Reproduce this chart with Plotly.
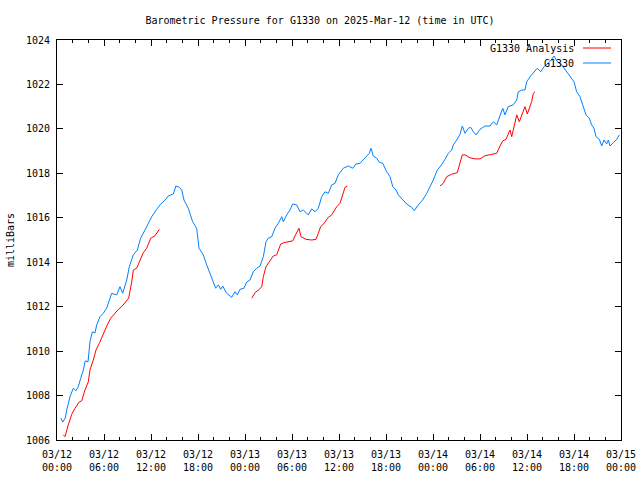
import plotly.graph_objects as go
from datetime import datetime, timedelta

# ---- data (hours since 2025-03-12 00:00 UTC, pressure in mbar) ----
obs_hours = [0.51, 0.73, 1.06, 1.24, 1.66, 2.08, 2.43, 2.72, 3.03, 3.36, 3.61, 3.96, 4.21, 4.51,
             4.85, 5.07, 5.49, 5.91, 6.34, 6.98, 7.62, 8.04, 8.39, 8.90, 9.23, 9.74, 10.25, 10.68,
             11.23, 11.66, 12.09, 12.73, 13.15, 13.79, 14.21, 14.85, 15.19, 15.61, 15.92, 16.21,
             16.76, 17.32, 17.83, 18.13, 18.68, 19.11, 19.53, 19.95, 20.26, 20.59, 20.90, 21.15,
             21.66, 22.30, 22.72, 23.02, 23.36, 23.87, 24.22, 24.64, 25.06, 25.49, 25.92, 26.34,
             26.68, 26.97, 27.41, 27.83, 28.25, 28.69, 28.89, 29.32, 29.74, 30.09, 30.60, 31.02,
             31.44, 32.08, 32.51, 32.94, 33.36, 33.79, 34.21, 34.63, 35.07, 35.49, 35.91, 36.55,
             37.19, 37.75, 38.17, 38.68, 39.10, 39.54, 39.87, 40.09, 40.38, 40.81, 41.14, 41.58,
             42.09, 42.51, 42.86, 43.28, 43.57, 44.00, 44.64, 45.28, 45.61, 46.12, 46.68, 47.20,
             47.62, 48.04, 48.55, 48.98, 49.53, 49.95, 50.39, 50.59, 51.03, 51.45, 51.74, 52.09,
             52.51, 52.81, 53.15, 53.49, 54.00, 54.64, 55.28, 55.70, 56.13, 56.55, 56.90, 57.19,
             57.61, 58.25, 58.69, 58.89, 59.32, 59.74, 59.96, 60.47, 60.80, 61.32, 61.75, 62.17,
             62.59, 63.02, 63.45, 63.87, 64.43, 65.07, 65.71, 66.00, 66.34, 66.77, 67.11, 67.53,
             67.95, 68.26, 68.55, 68.81, 69.23, 69.54, 69.83, 70.17, 70.38, 70.60, 71.02, 71.45,
             71.79]
obs_mbar = [1006.98, 1006.81, 1006.99, 1007.35, 1007.95, 1008.33, 1008.22, 1008.40, 1008.78,
            1009.15, 1009.56, 1009.52, 1010.42, 1010.87, 1010.82, 1011.18, 1011.55, 1011.70,
            1011.93, 1012.60, 1012.53, 1012.90, 1012.60, 1013.20, 1013.80, 1014.33, 1014.55,
            1015.08, 1015.45, 1015.75, 1016.05, 1016.38, 1016.58, 1016.80, 1016.98, 1017.07,
            1017.43, 1017.37, 1017.25, 1016.80, 1016.43, 1015.82, 1015.53, 1014.63, 1014.33,
            1013.88, 1013.50, 1013.05, 1012.83, 1012.98, 1012.78, 1012.93, 1012.60, 1012.42,
            1012.67, 1012.53, 1012.78, 1012.83, 1013.11, 1013.20, 1013.57, 1013.73, 1013.83,
            1014.25, 1014.92, 1015.08, 1015.15, 1015.53, 1015.75, 1016.05, 1015.82, 1016.13,
            1016.35, 1016.62, 1016.58, 1016.27, 1016.35, 1016.13, 1016.40, 1016.27, 1016.43,
            1016.95, 1017.17, 1017.10, 1017.48, 1017.55, 1017.93, 1018.23, 1018.33, 1018.23,
            1018.42, 1018.45, 1018.63, 1018.78, 1018.90, 1019.13, 1018.78, 1018.68, 1018.50,
            1018.45, 1018.07, 1017.85, 1017.40, 1017.25, 1017.03, 1016.88, 1016.62, 1016.47,
            1016.32, 1016.58, 1016.80, 1017.10, 1017.37, 1017.70, 1018.15, 1018.33, 1018.63,
            1018.90, 1019.05, 1019.28, 1019.50, 1019.76, 1020.13, 1019.80, 1020.03, 1020.07,
            1019.87, 1019.73, 1019.98, 1020.13, 1020.13, 1020.32, 1020.18, 1020.55, 1020.93,
            1020.63, 1021.00, 1021.08, 1021.30, 1021.67, 1021.75, 1021.75, 1022.12, 1022.38,
            1022.50, 1022.73, 1022.57, 1022.80, 1022.92, 1023.07, 1023.28, 1023.02, 1022.88,
            1022.57, 1022.28, 1022.12, 1021.67, 1021.45, 1021.08, 1020.63, 1020.48, 1020.18,
            1020.03, 1019.65, 1019.53, 1019.23, 1019.50, 1019.32, 1019.50, 1019.23, 1019.38,
            1019.53, 1019.73]

ana1_hours = [0.80, 1.02, 1.44, 1.88, 2.30, 2.85, 3.15, 3.57, 4.00, 4.21, 4.63, 4.98, 5.40, 5.91,
              6.42, 6.86, 7.40, 7.83, 8.26, 8.81, 9.15, 9.54, 9.74, 10.17, 10.51, 11.02, 11.45,
              11.96, 12.51, 13.06]
ana1_mbar = [1006.23, 1006.15, 1006.68, 1007.16, 1007.43, 1007.72, 1007.76, 1008.25, 1008.62,
             1009.15, 1009.60, 1010.05, 1010.35, 1010.80, 1011.18, 1011.48, 1011.70, 1011.88,
             1012.00, 1012.27, 1012.38, 1013.12, 1013.65, 1013.73, 1014.02, 1014.43, 1014.63,
             1015.08, 1015.19, 1015.48]
ana2_hours = [24.86, 25.28, 25.83, 26.14, 26.34, 26.68, 27.10, 27.61, 28.04, 28.56, 28.98, 29.53,
              30.09, 30.38, 30.89, 31.15, 31.79, 32.51, 33.06, 33.36, 33.66, 34.00, 34.63, 35.07,
              35.71, 36.13, 36.47, 36.77, 37.06]
ana2_mbar = [1012.38, 1012.63, 1012.78, 1012.90, 1013.35, 1013.80, 1014.02, 1014.28, 1014.33,
             1014.82, 1014.88, 1014.91, 1014.96, 1015.18, 1015.53, 1015.15, 1015.03, 1015.00,
             1015.03, 1015.30, 1015.60, 1015.71, 1016.02, 1016.13, 1016.50, 1016.65, 1017.03,
             1017.37, 1017.43]
ana3_hours = [48.89, 49.31, 49.75, 50.39, 51.10, 51.45, 51.74, 52.09, 52.72, 53.36, 54.00, 54.64,
              55.49, 56.13, 56.55, 56.90, 57.32, 57.61, 57.83, 58.05, 58.34, 58.69, 59.02, 59.45,
              59.74, 60.04, 60.38, 60.60, 60.81, 61.02]
ana3_mbar = [1017.43, 1017.55, 1017.85, 1017.96, 1018.03, 1018.45, 1018.83, 1018.83, 1018.70,
             1018.65, 1018.65, 1018.79, 1018.86, 1018.90, 1019.23, 1019.46, 1019.53, 1019.80,
             1019.95, 1019.65, 1020.10, 1020.63, 1020.32, 1020.73, 1021.00, 1020.67, 1021.00,
             1021.23, 1021.60, 1021.67]

title_text = "Barometric Pressure for G1330 on 2025-Mar-12 (time in UTC)"
ana_name = "G1330 Analysis"
obs_name = "G1330"
y_label = "milliBars"

base = datetime(2025, 3, 12)
def to_time(hours):
    return [base + timedelta(hours=h) if h is not None else None for h in hours]

ana_hours = ana1_hours + [None] + ana2_hours + [None] + ana3_hours
ana_mbar = ana1_mbar + [None] + ana2_mbar + [None] + ana3_mbar

RED = "#ff0000"
BLUE = "#0080ff"
FONT = "DejaVu Sans Mono"

fig = go.Figure()
fig.add_trace(go.Scatter(x=to_time(ana_hours), y=ana_mbar, mode="lines", name=ana_name,
                         line=dict(color=RED, width=1), connectgaps=False, showlegend=False))
fig.add_trace(go.Scatter(x=to_time(obs_hours), y=obs_mbar, mode="lines", name=obs_name,
                         line=dict(color=BLUE, width=1), showlegend=False))

# key (text to the left of the line sample, gnuplot style)
for i, (name, col) in enumerate([(ana_name, RED), (obs_name, BLUE)]):
    yk = 0.98 - i * 0.0375
    fig.add_annotation(x=0.920, y=yk, xref="paper", yref="paper", text=name,
                       showarrow=False, xanchor="right", yanchor="middle",
                       font=dict(family=FONT, size=10, color="black"))
    fig.add_shape(type="line", xref="paper", yref="paper", x0=0.9326, x1=0.9823, y0=yk, y1=yk,
                  line=dict(color=col, width=1))

fig.update_layout(
    width=640, height=480,
    margin=dict(l=57, r=19, t=40, b=40, autoexpand=False),
    paper_bgcolor="white", plot_bgcolor="white",
    font=dict(family=FONT, size=10, color="black"),
    title=dict(text=title_text, x=0.5, xanchor="center", y=1 - 20 / 480, yanchor="middle",
               font=dict(family=FONT, size=10, color="black")),
    showlegend=False,
)
fig.update_xaxes(
    type="date", automargin=False,
    range=[base, base + timedelta(hours=72)],
    tick0=base, dtick=6 * 3600 * 1000,
    tickformat="%m/%d<br>%H:%M",
    ticks="inside", ticklen=6, tickcolor="black", tickwidth=1,
    showline=True, linecolor="black", linewidth=1, mirror="ticks",
    showgrid=False, zeroline=False,
    minor=dict(dtick=2 * 3600 * 1000, ticks="inside", ticklen=3, tickcolor="black", showgrid=False),
    tickfont=dict(family=FONT, size=10, color="black"),
    ticklabelstandoff=5,
)
fig.update_yaxes(
    automargin=False,
    range=[1006, 1024], dtick=2, tick0=1006, tickformat="d",
    ticks="inside", ticklen=6, tickcolor="black", tickwidth=1,
    showline=True, linecolor="black", linewidth=1, mirror="ticks",
    showgrid=False, zeroline=False,
    title=dict(text=y_label, standoff=9, font=dict(family=FONT, size=10, color="black")),
    tickfont=dict(family=FONT, size=10, color="black"),
    ticklabelstandoff=4,
)

fig.write_html("out.html", config={"displayModeBar": False},
               post_script="document.body.style.margin='0';")
